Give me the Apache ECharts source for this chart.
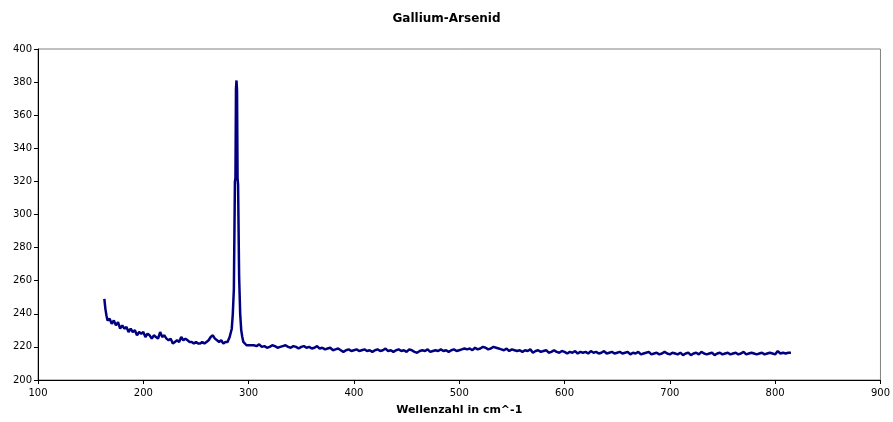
<!DOCTYPE html>
<html>
<head>
<meta charset="utf-8">
<script src="https://cdn.jsdelivr.net/npm/echarts@6/dist/echarts.min.js"></script>
<style>html,body{margin:0;padding:0;background:#fff}#c{width:893px;height:422px}</style>
</head>
<body>
<div id="c"></div>
<script>
var titleText = 'Gallium-Arsenid';
var xAxisName = 'Wellenzahl in cm^-1';
// wavenumber (x) for the low region and the peak
var xLow = [163,164,165,166,168,170,172,174,176,178,180,182,184,186,188,190,192,194,196,198,200,202,204,206,208,210,212,214,216,218,220,222,224,226,228,230,232,234,236,238,240,242,244,246,248,250,252,254,256,258,260,262,264,266,268,270,272,274,276,278,280,282,284,285,286,287,287.5,288,288.5,289,289.5,290,291,292,293,294,295,296,298,300,302];
var yLow = [249,243,239,236,237,234,236,233,235,231,233,231,232,229,231,229,230,227,229,228,229,226,228,227,225,227,226,225,229,226,227,225,224,225,222,223,224,223,226,224,225,224,223,223,222,223,222,222,223,222,223,224,226,227,225,224,223,224,222,223,223,226,231,240,255,320,322,376,381,375,322,318,262,240,230,226,223,222,221,221,221];
// tail: wavenumber 305..815 in steps of 2.5
var xTailStart = 305, xTailStep = 2.5;
var yTail = [221,220.5,221.5,220,220.5,219.5,220,221,220.5,219.5,220,220.5,221,220,219.5,220.5,220,219,220,220.5,
219.5,220,219,219.5,220.5,219,219.5,218.5,219,219.5,218,218.5,219,218,217,218,218.5,217.5,218,218.5,
217.5,218,218.5,217.5,218,217,218,218.5,217.5,218,219,217.5,218,217,218,218.5,217.5,218,217,218.5,
218,217,216.5,217.5,218,217.5,218.5,217,217.5,218,217.5,218.5,217.5,218,217,218,218.5,217.5,218,218.5,
219,218.5,219,218,219.5,218.5,219,220,219.5,218.5,219,220,219.5,219,218.5,218,219,217.5,218.5,218,
217.5,218,217,218,217.5,218.5,216.5,217.5,218,217,217.5,218,216.5,217,218,217,216.5,217.5,217,216,
217,216.5,217.5,216,217,216.5,217,216,217.5,216.5,217,216,216.5,217.5,216,216.5,217,216,216.5,217,
216,216.5,217,215.5,216.5,216,217,215.5,216,216.5,217,215.5,216,216.5,215.5,216,217,216,215.5,216.5,
216,215.5,216.5,215,216,216.5,215,216,216.5,215.5,217,216,215.5,216,216.5,215,216,216.5,215.5,216,
216.5,215.5,216,216.5,215.5,216,217,215.5,216,216.5,216,215.5,216,216.5,215.5,216,216.5,216,215.5,217.5,
216,216.5,216,216.5,216.5];
var xTicksMin = 100, xTicksMax = 900, xTickStep = 100;
var yTicksMin = 200, yTicksMax = 400, yTickStep = 20;

var data = [];
for (var i = 0; i < xLow.length; i++) data.push([xLow[i], yLow[i]]);
for (var j = 0; j < yTail.length; j++) data.push([xTailStart + j * xTailStep, yTail[j]]);

var chart = echarts.init(document.getElementById('c'), null, {renderer: 'canvas'});
var font = 'DejaVu Sans, Liberation Sans, sans-serif';
chart.setOption({
  animation: false,
  backgroundColor: '#fff',
  title: {text: titleText, left: 'center', top: 8,
    textStyle: {fontFamily: font, fontSize: 12, fontWeight: 'bold', color: '#000'}},
  grid: {left: 38, right: 12, top: 49, bottom: 42, show: true, borderColor: '#808080', borderWidth: 1},
  xAxis: {type: 'value', min: xTicksMin, max: xTicksMax, interval: xTickStep,
    name: xAxisName, nameLocation: 'middle', nameGap: 25,
    nameTextStyle: {fontFamily: font, fontSize: 11, fontWeight: 'bold', color: '#000'},
    axisLine: {lineStyle: {color: '#000', width: 1}},
    axisTick: {show: true, length: 4, lineStyle: {color: '#000'}},
    axisLabel: {fontFamily: font, fontSize: 10, color: '#000', margin: 8},
    splitLine: {show: false}},
  yAxis: {type: 'value', min: yTicksMin, max: yTicksMax, interval: yTickStep,
    axisLine: {show: true, lineStyle: {color: '#000', width: 1}},
    axisTick: {show: true, length: 4, lineStyle: {color: '#000'}},
    axisLabel: {fontFamily: font, fontSize: 10, color: '#000', margin: 6},
    splitLine: {show: false}},
  series: [{type: 'line', data: data, showSymbol: false, symbol: 'none',
    lineStyle: {color: '#000080', width: 2.5}, itemStyle: {color: '#000080'}}]
});
</script>
</body>
</html>
